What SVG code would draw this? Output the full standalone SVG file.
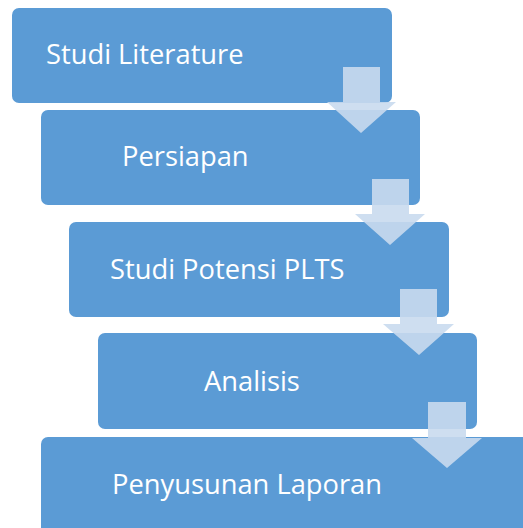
<svg xmlns="http://www.w3.org/2000/svg" width="523" height="528" viewBox="0 0 523 528">
<style>
.box{fill:#5B9BD5;}
.lbl{font-family:"Open Sans","Noto Sans","Liberation Sans",sans-serif;font-size:27.3px;fill:#FFFFFF;}
.arr{fill:#C9DAEE;fill-opacity:0.9;}
</style>
<rect width="523" height="528" fill="#FFFFFF"/>
<g id="node-studi-literature">
<rect class="box" x="12" y="8" width="380" height="95" rx="7"/>
<text class="lbl" x="46" y="64">Studi Literature</text>
</g>
<g id="node-persiapan">
<rect class="box" x="41" y="110" width="379" height="95" rx="7"/>
<text class="lbl" x="122" y="166">Persiapan</text>
</g>
<g id="node-studi-potensi">
<rect class="box" x="69" y="222" width="380" height="95" rx="7"/>
<text class="lbl" x="110" y="279">Studi Potensi PLTS</text>
</g>
<g id="node-analisis">
<rect class="box" x="98" y="333" width="379" height="96" rx="7"/>
<text class="lbl" x="204" y="391">Analisis</text>
</g>
<g id="node-penyusunan">
<rect class="box" x="41" y="437" width="500" height="110" rx="7"/>
<text class="lbl" x="112" y="494">Penyusunan Laporan</text>
</g>
<g id="connectors">
<polygon class="arr" points="343,67 380,67 380,102 396,102 361,133 327,102 343,102"/>
<polygon class="arr" points="372,179 409,179 409,214 425,214 390,245 355,214 372,214"/>
<polygon class="arr" points="400,289 437,289 437,324 454,324 419,355 383,324 400,324"/>
<polygon class="arr" points="428,402 466,402 466,438 482,438 447,468 412,438 428,438"/>
</g>
</svg>
